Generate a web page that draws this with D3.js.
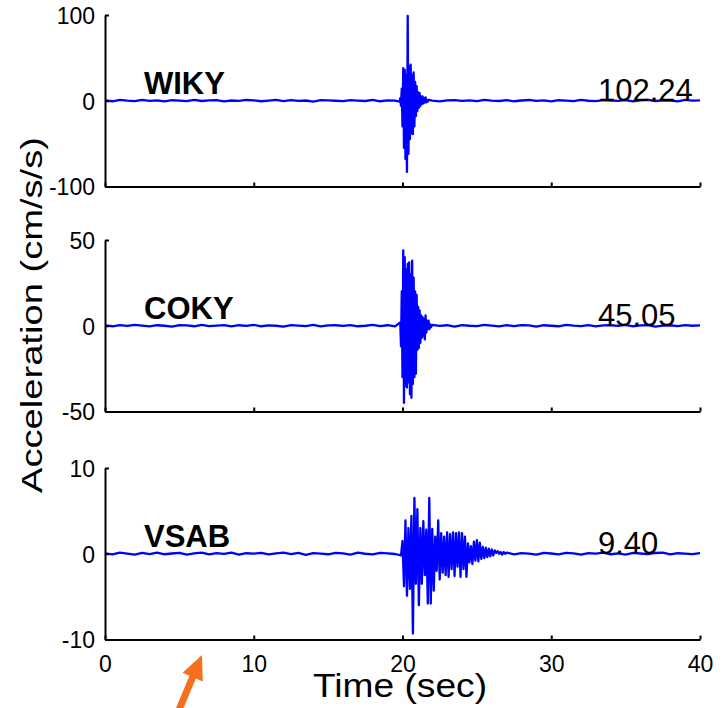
<!DOCTYPE html>
<html>
  <head>
    <meta charset="utf-8">
    <script type="text/javascript" src="https://d3js.org/d3.v7.min.js"></script>
    <style>
        body{ margin:0; background:#fff; }
        svg { display:block; font-family:"Liberation Sans", Arial, sans-serif; }
    </style>
  </head>
  <body>
    <script type="text/javascript">
      // station names and peak values shown on the right
      var stations = ["WIKY", "COKY", "VSAB"];
      var peaks = ["102.24", "45.05", "9.40"];
      var yLimits = [100, 50, 10];
      var xTicks = [0, 10, 20, 30, 40];

      // quiet part of each record, one value every 0.5 s from 0 to 40 s
      var noiseStep = 0.5;
      var wikyNoise = [0.4,-0.6,0.9,0.1,-0.4,1.0,-0.2,0.5,-0.8,0.6,
                       0.2,-0.5,1.1,-0.3,0.4,0.8,-0.7,0.3,-0.1,0.9,
                       0.5,-0.6,0.2,1.0,-0.4,0.7,-0.2,0.3,-0.9,0.6,
                       0.4,0.0,-0.5,0.8,0.2,-0.3,1.1,-0.6,0.5,0.1,
                       0.3,
                       0.6,-0.4,0.9,0.1,-0.7,0.5,0.8,-0.2,0.4,-0.5,
                       1.0,0.2,-0.3,0.7,-0.6,0.3,0.9,-0.1,0.5,-0.8,
                       0.6,0.2,-0.4,1.1,0.0,-0.5,0.8,0.3,-0.2,0.7,
                       -0.6,0.4,1.0,-0.3,0.5,0.1,-0.7,0.9,0.2,0.4];
      var cokyNoise = [0.2,-0.3,0.4,-0.1,0.5,0.1,-0.4,0.3,0.0,-0.5,
                       0.4,0.2,-0.3,0.5,-0.2,0.1,0.4,-0.4,0.3,-0.1,
                       0.5,-0.3,0.2,0.0,-0.5,0.4,0.1,-0.2,0.5,-0.4,
                       0.2,0.3,-0.1,0.4,-0.3,0.0,0.5,-0.2,0.3,-0.4,
                       0.1,
                       0.4,-0.3,0.2,0.5,-0.1,0.3,-0.5,0.4,0.0,-0.2,
                       0.5,0.1,-0.4,0.3,-0.2,0.4,0.2,-0.5,0.3,0.0,
                       -0.3,0.5,0.1,-0.2,0.4,-0.4,0.2,0.3,-0.1,0.5,
                       -0.3,0.2,0.4,-0.5,0.1,0.3,-0.2,0.4,0.0,0.2];
      var vsabNoise = [0.05,-0.08,0.12,0.02,-0.10,0.09,-0.04,0.14,-0.06,0.03,
                       0.11,-0.09,0.04,0.13,-0.07,0.08,-0.02,0.12,-0.11,0.06,
                       0.01,0.10,-0.08,0.05,0.13,-0.05,0.09,-0.12,0.07,0.02,
                       -0.06,0.11,0.04,-0.09,0.12,0.00,-0.07,0.10,0.05,-0.03,
                       0.06,
                       -0.04,0.08,0.03,-0.06,0.10,0.02,-0.08,0.12,0.05,-0.05,
                       0.09,-0.10,0.04,0.13,-0.06,0.07,0.01,-0.09,0.11,0.03,
                       -0.07,0.10,0.05,-0.11,0.08,0.02,0.12,-0.06,0.04,-0.09,
                       0.11,0.03,-0.05,0.09,0.14,-0.08,0.06,0.02,-0.04,0.07];

      // strong motion part of each record
      var wikyStart = 19.80, wikyStep = 0.05;
      var wikyBurst = [-1,3,-6,14,-30,38,-55,36,-68,30,
                       -83,99,-62,40,-45,42,-38,30,-39,33,
                       -30,22,-18,17,-12,10,-8,9,-6,5,
                       -4,5,-3,3,-2,4,-2,1,-1,1];
      var cokyStart = 19.85, cokyStep = 0.05;
      var cokyBurst = [2,-12,20,-30,44,-45,40,-35,33,-36,
                       36,-33,37,-40,30,-42,38,-34,28,-30,
                       20,-28,18,-14,11,-13,9,-10,6,-7,
                       5,-6,4,-8,6,-4,3,-2,3,-2,
                       1,-1];
      var vsabStart = 19.9, vsabStep = 0.1;
      var vsabBurst = [-0.2,1.5,-3.8,3.9,-4.9,3.0,-4.1,4.4,-9.3,6.5,
                       -3.5,5.2,-6.0,3.0,-3.5,3.8,-2.5,2.8,-5.8,6.5,
                       -5.8,2.9,-4.3,2.0,-2.0,3.9,-3.0,2.4,-2.2,2.0,
                       -2.5,2.5,-2.7,2.3,-1.8,2.5,-2.6,2.4,-1.5,2.5,
                       -2.7,2.4,-1.8,2.0,-2.7,1.2,-1.0,0.9,-1.2,1.4,
                       -0.8,1.6,-0.9,1.3,-0.6,0.8,-0.5,0.7,-0.4,0.6,
                       -0.3,0.5,-0.2,0.4,0.1,0.3,0.0,0.2,-0.1,0.2,
                       0.0];

      var noises = [wikyNoise, cokyNoise, vsabNoise];
      var bursts = [wikyBurst, cokyBurst, vsabBurst];
      var starts = [wikyStart, cokyStart, vsabStart];
      var steps = [wikyStep, cokyStep, vsabStep];

      var width = 725,
          height = 708;
      var left = 105, right = 700;
      var panelTops = [15, 240, 468];
      var panelH = 171.5;

      var svg = d3.select("body").append("svg")
          .attr("width", width)
          .attr("height", height);

      var x = d3.scaleLinear()
          .domain([0, 40])
          .range([left, right]);

      // join the quiet part and the burst into one record
      function buildRecord(k) {
          var t0 = starts[k];
          var burst = bursts[k].map(function(v, i) { return [t0 + i * steps[k], v]; });
          var t1 = burst[burst.length - 1][0];
          var pts = [];
          noises[k].forEach(function(v, i) {
              var t = i * noiseStep;
              if (t < t0 || t > t1) pts.push([t, v]);
          });
          pts = pts.concat(burst);
          pts.sort(function(a, b) { return a[0] - b[0]; });
          return pts;
      }

      stations.forEach(function(name, k) {
          var top = panelTops[k];
          var y = d3.scaleLinear()
              .domain([-yLimits[k], yLimits[k]])
              .range([top + panelH, top]);

          var g = svg.append("g");

          var line = d3.line()
              .x(function(d) { return x(d[0]); })
              .y(function(d) { return y(d[1]); });

          g.append("path")
              .datum(buildRecord(k))
              .attr("d", line)
              .attr("fill", "none")
              .attr("stroke", "#0000ff")
              .attr("stroke-width", 2.3)
              .attr("stroke-linejoin", "round");

          // x axis
          var xa = g.append("g")
              .attr("transform", "translate(0," + (top + panelH) + ")")
              .call(d3.axisBottom(x)
                  .tickValues(xTicks)
                  .tickSize(-4)
                  .tickSizeOuter(0)
                  .tickPadding(16)
                  .tickFormat(function(d) { return k == 2 ? String(d) : ""; }));

          // y axis
          var ya = g.append("g")
              .attr("transform", "translate(" + left + ",0)")
              .call(d3.axisLeft(y)
                  .tickValues([-yLimits[k], 0, yLimits[k]])
                  .tickSize(-4)
                  .tickSizeOuter(0)
                  .tickPadding(10)
                  .tickFormat(function(d) { return String(d); }));

          [xa, ya].forEach(function(a) {
              a.select(".domain").attr("stroke", "#000").attr("stroke-width", 2);
              a.selectAll(".tick line").attr("stroke", "#000").attr("stroke-width", 2);
              a.selectAll("text")
                  .attr("fill", "#000")
                  .attr("font-size", 23)
                  .attr("font-family", "Liberation Sans, Arial, sans-serif");
          });
          ya.selectAll("text").attr("dy", "0.36em");

          g.append("text")
              .attr("x", 144)
              .attr("y", y(0) - 7)
              .attr("font-size", 31)
              .attr("font-weight", "bold")
              .attr("fill", "#000")
              .text(name);

          g.append("text")
              .attr("x", 598)
              .attr("y", y(0))
              .attr("font-size", 31)
              .attr("fill", "#000")
              .text(peaks[k]);
      });

      // axis titles
      svg.append("text")
          .attr("transform", "translate(42,315) rotate(-90)")
          .attr("text-anchor", "middle")
          .attr("font-size", 30)
          .attr("textLength", 356)
          .attr("lengthAdjust", "spacingAndGlyphs")
          .attr("fill", "#000")
          .text("Acceleration (cm/s/s)");

      svg.append("text")
          .attr("x", 400)
          .attr("y", 697)
          .attr("text-anchor", "middle")
          .attr("font-size", 34)
          .attr("textLength", 174)
          .attr("lengthAdjust", "spacingAndGlyphs")
          .attr("fill", "#000")
          .text("Time (sec)");

      // orange arrow pointing at the time axis
      svg.append("path")
          .attr("d", "M202,655 L202.8,681.4 L195.9,678.5 L181.2,713.6 L174.8,710.8 L189.5,675.7 L182.6,672.8 Z")
          .attr("fill", "#f5701c");
    </script>
  </body>
</html>
